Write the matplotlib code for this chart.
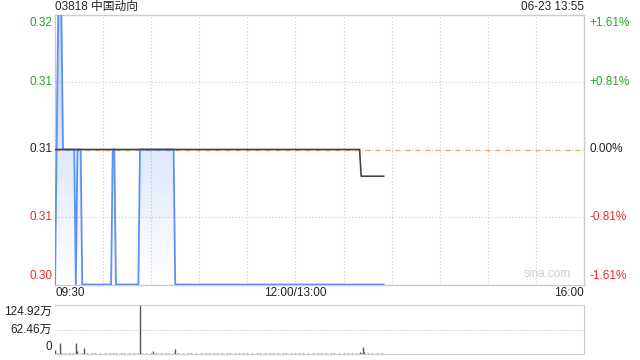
import numpy as np
import matplotlib
matplotlib.use("Agg")
import matplotlib.pyplot as plt

plt.rcParams['font.family'] = ['Liberation Sans', 'Noto Sans CJK SC', 'DejaVu Sans']

# ---- data (minutes after 09:30, HK session 330 min) ----
prev_close = 0.31
price_min = [0, 2, 4, 5, 12, 13, 14, 16, 17, 35, 36, 37, 38, 52, 53, 74, 75, 205]
price_val = [0.305, 0.315, 0.315, 0.31, 0.31, 0.305, 0.31, 0.31, 0.305, 0.305,
             0.31, 0.31, 0.305, 0.305, 0.31, 0.31, 0.305, 0.305]
avg_min = [0, 190, 191, 205]
avg_val = [0.31, 0.31, 0.30901, 0.30901]

# volume in 万, one value per minute 0..205
volume = [
    10, 2, 1, 29, 2, 1, 2, 1, 1, 2,
    1, 2, 1, 29, 8, 1, 1, 2, 16, 1,
    2, 1, 1, 2, 1, 2, 1, 1, 2, 1,
    1, 2, 1, 1, 2, 1, 3, 1, 2, 1,
    1, 2, 1, 2, 1, 1, 2, 1, 1, 2,
    1, 1, 2, 124.92, 2, 1, 1, 2, 1, 1,
    2, 7, 1, 2, 1, 1, 2, 1, 1, 2,
    1, 2, 1, 1, 2, 13, 1, 2, 1, 1,
    2, 1, 1, 2, 1, 2, 1, 1, 2, 1,
    1, 2, 1, 1, 2, 1, 2, 1, 1, 2,
    1, 2, 1, 1, 2, 1, 1, 2, 1, 2,
    1, 1, 2, 1, 1, 2, 1, 2, 1, 1,
    2, 1, 1, 2, 1, 1, 2, 1, 2, 1,
    1, 2, 1, 1, 2, 1, 2, 1, 1, 2,
    1, 1, 2, 1, 2, 1, 1, 2, 1, 1,
    2, 1, 2, 1, 1, 2, 1, 1, 2, 1,
    1, 2, 1, 1, 2, 1, 2, 1, 1, 2,
    1, 1, 2, 1, 2, 1, 1, 2, 1, 1,
    2, 1, 1, 2, 1, 2, 1, 1, 2, 1,
    4, 2, 18, 5, 1, 2, 1, 1, 2, 1,
    1, 2, 1, 1, 2, 1,
]
vol_ticks = [0, 62.46, 124.92]
vol_labels = ['0', '62.46万', '124.92万']
price_ticks = [0.305, 0.3075, 0.31, 0.3125, 0.315]
price_labels = ['0.30', '0.31', '0.31', '0.31', '0.32']
pct_labels = ['-1.61%', '-0.81%', '0.00%', '+0.81%', '+1.61%']
tick_colors = ['#ee2b2b', '#ee2b2b', '#222222', '#22a822', '#22a822']

W, H = 640, 360
FS = 8.5
fig = plt.figure(figsize=(6.4, 3.6), dpi=100)
ax = fig.add_axes([55 / W, 1 - 284.5 / H, 529 / W, 270 / H])
axv = fig.add_axes([55 / W, 1 - 354 / H, 529 / W, 49 / H])

ymin, ymax = 0.305, 0.315
ax.set_xlim(0, 330)
ax.set_ylim(ymin, ymax)
px = 330 / 529  # one pixel in minutes

# grid
for m in range(30, 330, 30):
    ax.axvline(m, color='#cccccc', lw=0.8, ls=(0, (1, 2)), zorder=0)
for y in [0.3075, 0.3125]:
    ax.axhline(y, color='#cccccc', lw=0.8, ls=(0, (1, 2)), zorder=0)
ax.axhline(prev_close, color='#cccccc', lw=0.8, ls=(0, (1, 2)), zorder=0)
ax.axhline(prev_close, color='#f0a060', lw=0.9, ls=(0, (4, 4)), zorder=1)

# gradient fill under price line
grad = np.zeros((100, 2, 4))
grad[..., 0] = 0.35
grad[..., 1] = 0.55
grad[..., 2] = 0.93
grad[..., 3] = np.linspace(0.4, 0.0, 100)[:, None]
img = ax.imshow(grad, extent=[0, 330, ymin, ymax], aspect='auto', zorder=1, origin='upper')
poly = ax.fill_between(price_min, price_val, ymin, color='none', lw=0)
img.set_clip_path(poly.get_paths()[0], transform=ax.transData)

ax.plot(price_min, price_val, color='#5b93ee', lw=1.3, zorder=3)
ax.plot(avg_min, avg_val, color='#444444', lw=1.2, zorder=4)

for s in ax.spines.values():
    s.set_color('#cccccc')
    s.set_linewidth(1)
ax.set_xticks([])
ax.set_yticks([])

# price and percent labels
for y, lab, pct, c in zip(price_ticks, price_labels, pct_labels, tick_colors):
    yy = y
    va = 'center'
    if y == ymax:
        va = 'top'
        yy = y - 0.0001
    elif y == ymin:
        va = 'bottom'
        yy = y + 0.0001
    ax.text(-3 * px, yy, lab, ha='right', va=va, color=c, fontsize=FS)
    ax.text(330 + 5 * px, yy, pct, ha='left', va=va, color=c, fontsize=FS)

ax.text(0, 1.0 + 2 / 270, '03818 中国动向', transform=ax.transAxes, ha='left', va='bottom',
        fontsize=FS, color='#222222')
ax.text(1, 1.0 + 2 / 270, '06-23 13:55', transform=ax.transAxes, ha='right', va='bottom',
        fontsize=FS, color='#222222')
ax.text(0, -3 / 270, '09:30', transform=ax.transAxes, ha='left', va='top', fontsize=FS, color='#222222')
ax.text(150, -3 / 270, '12:00/13:00', transform=ax.get_xaxis_transform(), ha='center',
        va='top', fontsize=FS, color='#222222')
ax.text(1, -3 / 270, '16:00', transform=ax.transAxes, ha='right', va='top', fontsize=FS, color='#222222')
ax.text(0.975, 0.015, 'sina.com', transform=ax.transAxes, ha='right', va='bottom',
        fontsize=FS, color='#cccccc')

# volume
axv.set_xlim(0, 330)
axv.set_ylim(0, 124.92)
axv.vlines(np.arange(len(volume)), 0, volume, color='#555555', lw=1)
axv.axhline(62.46, color='#cccccc', lw=0.8, ls=(0, (1, 1)), zorder=0)
for side in ['top', 'bottom']:
    axv.spines[side].set_color('#cccccc')
    axv.spines[side].set_linestyle((0, (1, 1)))
axv.spines['left'].set_visible(False)
axv.spines['right'].set_color('#cccccc')
axv.set_xticks([])
axv.set_yticks([])
for v, lab in zip(vol_ticks, vol_labels):
    va = 'center'
    yy = v
    if v == 124.92:
        va = 'top'
        yy = v - 1
    elif v == 0:
        va = 'bottom'
        yy = v + 3
    axv.text(-3 * px, yy, lab, ha='right', va=va, fontsize=FS, color='#222222')

fig.savefig('out.png', dpi=100)
